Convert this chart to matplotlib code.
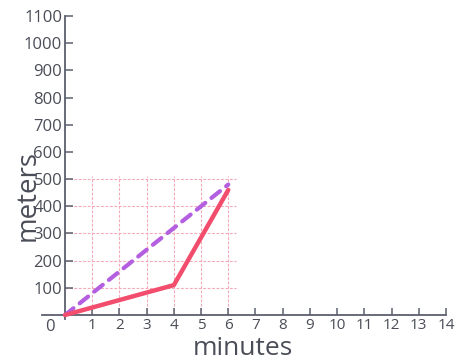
import matplotlib
matplotlib.use("Agg")
import matplotlib.pyplot as plt

# Distance walked over time
minutes_red = [0, 4, 6]
meters_red = [0, 110, 460]
minutes_purple = [0, 6]
meters_purple = [0, 480]

x_ticks = list(range(1, 15))
y_ticks = list(range(100, 1101, 100))
grid_x = list(range(1, 7))
grid_y = list(range(100, 501, 100))

plt.rcParams['font.family'] = ['Open Sans', 'DejaVu Sans']

axis_color = '#5b606d'
label_color = '#4a4d57'

fig = plt.figure(figsize=(4.63, 3.63), dpi=100)
ax = fig.add_axes([0, 0, 1, 1])
ax.set_xlim(-2.389, 14.627)
ax.set_ylim(-176.6, 1158.9)
ax.patch.set_alpha(0)

# pink graph-paper grid in the lower-left block
ax.vlines(grid_x, 0, 510, colors='#f3a9b8', linestyles=(0, (2.5, 1.5)), linewidth=0.8, zorder=1)
ax.hlines(grid_y, 0, 6.3, colors='#f3a9b8', linestyles=(0, (2.5, 1.5)), linewidth=0.8, zorder=1)

# axes through the origin
for side in ('top', 'right'):
    ax.spines[side].set_visible(False)
ax.spines['left'].set_position(('data', 0))
ax.spines['bottom'].set_position(('data', 0))
ax.spines['left'].set_bounds(-15, 1100)
ax.spines['bottom'].set_bounds(-0.85, 14)
for side in ('left', 'bottom'):
    ax.spines[side].set_color(axis_color)
    ax.spines[side].set_linewidth(1.3)

ax.set_xticks(x_ticks)
ax.set_yticks(y_ticks)
ax.set_xticklabels([str(v) for v in x_ticks])
ax.set_yticklabels([str(v) for v in y_ticks])
ax.tick_params(axis='y', direction='in', length=6, width=1.1, color=axis_color,
               labelsize=12, labelcolor=label_color, pad=2)
ax.tick_params(axis='x', direction='in', length=5, width=1.1, color=axis_color,
               labelsize=11, labelcolor=label_color, pad=2)

ax.text(-0.55, -45, '0', fontsize=12, color=label_color, ha='center', va='center')

# data lines
ax.plot(minutes_purple, meters_purple, color='#b45ee0', linewidth=3.0,
        linestyle=(0, (2.6, 1.9)), solid_capstyle='round', dash_capstyle='round', zorder=3)
ax.plot(minutes_red, meters_red, color='#f24d6c', linewidth=3.2,
        solid_capstyle='round', solid_joinstyle='round', zorder=4)

# axis titles
ax.text(-1.38, 440, 'meters', rotation=90, fontsize=20, color=label_color,
        ha='center', va='center')
ax.text(6.55, -122, 'minutes', fontsize=19, color=label_color, ha='center', va='center')

fig.savefig('out.png', dpi=100)
